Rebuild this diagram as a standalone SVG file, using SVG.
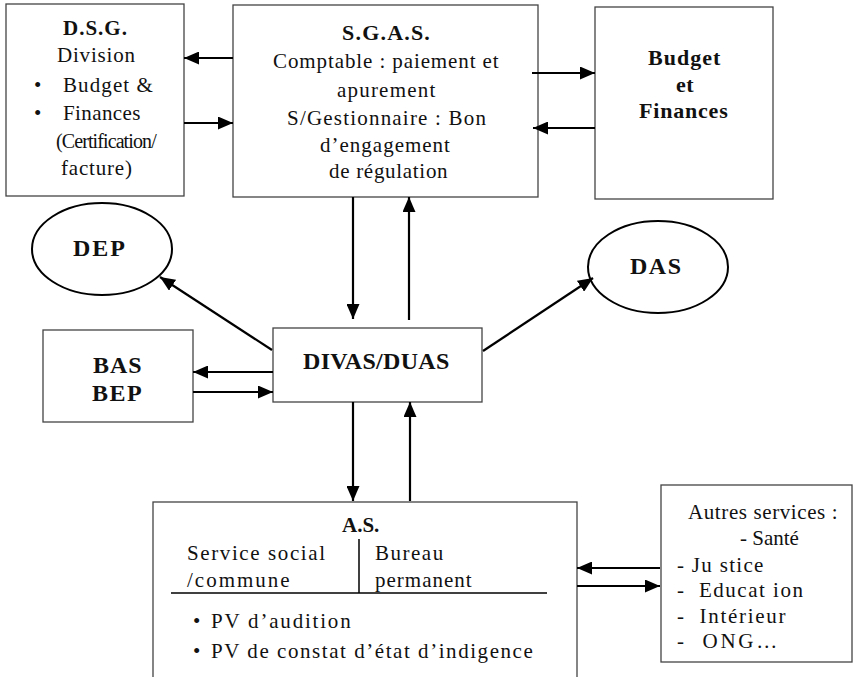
<svg xmlns="http://www.w3.org/2000/svg" width="858" height="677" viewBox="0 0 858 677">
<style>
.box{fill:#fff;stroke:#444;stroke-width:1.3}
.ell{fill:#fff;stroke:#000;stroke-width:2}
.ln{stroke:#000;stroke-width:1.5;fill:none}
.b{font-weight:bold}
.con line{stroke:#000;stroke-width:2.2;marker-end:url(#ah)}
</style>
<defs>
<marker id="ah" markerUnits="userSpaceOnUse" markerWidth="15" markerHeight="13" refX="15" refY="6.5" orient="auto">
<path d="M0,0 L15,6.5 L0,13 z" fill="#000"/>
</marker>
</defs>
<rect width="858" height="677" fill="#fff"/>
<g font-family="Liberation Serif, serif" font-size="21" fill="#111">

<g id="dsg">
<rect class="box" x="6" y="4" width="178" height="192"/>
<text class="b" x="63" y="35" letter-spacing="1">D.S.G.</text>
<text x="57" y="62" letter-spacing="0.8">Division</text>
<text x="34" y="92">•</text>
<text x="63" y="92" letter-spacing="1.1">Budget &amp;</text>
<text x="34" y="120">•</text>
<text x="63" y="120" letter-spacing="0.4">Finances</text>
<text x="56" y="148" font-size="20" letter-spacing="-0.9">(Certification/</text>
<text x="61" y="175" letter-spacing="0.8">facture)</text>
</g>

<g id="sgas">
<rect class="box" x="233" y="5" width="305" height="192"/>
<text class="b" x="342" y="40" font-size="22" letter-spacing="1.2">S.G.A.S.</text>
<text x="273" y="68" letter-spacing="0.9">Comptable : paiement et</text>
<text x="337" y="97" letter-spacing="1.2">apurement</text>
<text x="287" y="125" letter-spacing="1.2">S/Gestionnaire : Bon</text>
<text x="320" y="152" letter-spacing="1">d’engagement</text>
<text x="329" y="178" letter-spacing="0.7">de régulation</text>
</g>

<g id="budget">
<rect class="box" x="595" y="7" width="178" height="192"/>
<text class="b" x="648" y="65" font-size="22" letter-spacing="1">Budget</text>
<text class="b" x="676" y="92" font-size="22" letter-spacing="0.5">et</text>
<text class="b" x="639" y="118" font-size="22" letter-spacing="0.8">Finances</text>
</g>

<g id="dep">
<ellipse class="ell" cx="102" cy="249" rx="70" ry="46"/>
<text class="b" x="73" y="256" font-size="24" letter-spacing="2">DEP</text>
</g>

<g id="das">
<ellipse class="ell" cx="658" cy="267" rx="70" ry="46"/>
<text class="b" x="630" y="274" font-size="24" letter-spacing="1.5">DAS</text>
</g>

<g id="bas">
<rect class="box" x="43" y="330" width="150" height="92"/>
<text class="b" x="93" y="373" font-size="24" letter-spacing="1">BAS</text>
<text class="b" x="92" y="401" font-size="24" letter-spacing="1.5">BEP</text>
</g>

<g id="divas">
<rect class="box" x="273" y="328" width="209" height="74"/>
<text class="b" x="303" y="369" font-size="24" letter-spacing="0.3">DIVAS/DUAS</text>
</g>

<g id="as">
<rect class="box" x="153" y="502" width="424" height="200"/>
<text class="b" x="342" y="532">A.S.</text>
<text x="187" y="560" letter-spacing="1.6">Service social</text>
<text x="187" y="587" letter-spacing="2">/commune</text>
<text x="375" y="560" letter-spacing="1.5">Bureau</text>
<text x="375" y="587" letter-spacing="1">permanent</text>
<line class="ln" x1="359" y1="539" x2="359" y2="593"/>
<line class="ln" x1="171" y1="593" x2="547" y2="593"/>
<text x="193" y="628">•</text>
<text x="211" y="628" letter-spacing="1.8">PV d’audition</text>
<text x="193" y="658">•</text>
<text x="211" y="658" letter-spacing="1.55">PV de constat d’état d’indigence</text>
</g>

<g id="autres">
<rect class="box" x="661" y="485" width="191" height="177"/>
<text x="688" y="519" letter-spacing="0.6">Autres services :</text>
<text x="740" y="545">- Santé</text>
<text x="677" y="572" letter-spacing="1.3">- Ju stice</text>
<text x="677" y="597" letter-spacing="1.5" xml:space="preserve">-  Educat ion</text>
<text x="677" y="623" letter-spacing="1.7" xml:space="preserve">-  Intérieur</text>
<text x="677" y="648" letter-spacing="2.7" xml:space="preserve">-  ONG…</text>
</g>
</g>

<g id="connectors" class="con">
<line x1="233" y1="58" x2="184" y2="58"/>
<line x1="184" y1="123" x2="233" y2="123"/>
<line x1="532" y1="73" x2="595" y2="73"/>
<line x1="595" y1="128" x2="533" y2="128"/>
<line x1="353" y1="197" x2="353" y2="319"/>
<line x1="409" y1="320" x2="409" y2="197"/>
<line x1="272" y1="350" x2="160" y2="277"/>
<line x1="483" y1="351" x2="593" y2="278"/>
<line x1="273" y1="372" x2="193" y2="372"/>
<line x1="193" y1="392" x2="273" y2="392"/>
<line x1="353" y1="402" x2="353" y2="501"/>
<line x1="410" y1="501" x2="410" y2="402"/>
<line x1="660" y1="568" x2="577" y2="568"/>
<line x1="577" y1="586" x2="660" y2="586"/>
</g>
</svg>
